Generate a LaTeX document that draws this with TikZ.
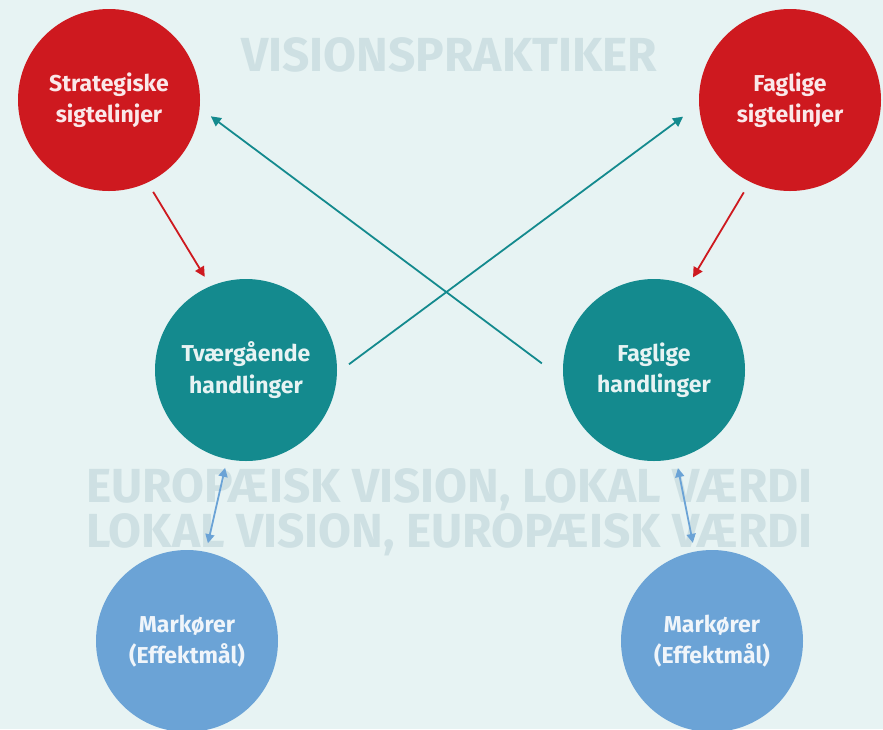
\documentclass[tikz,border=0pt]{standalone}
\usepackage{fontspec}
\setmainfont{Fira Sans}
\usetikzlibrary{arrows.meta}
\definecolor{bg}{RGB}{231,243,243}
\definecolor{wm}{RGB}{206,224,227}
\definecolor{cred}{RGB}{206,25,31}
\definecolor{cteal}{RGB}{20,138,142}
\definecolor{cblue}{RGB}{107,163,214}
\tikzset{
  bubble/.style={circle, minimum size=182pt, inner sep=0pt, outer sep=0pt, align=center,
    font=\fontsize{23}{31.5}\selectfont\bfseries, text=white, text opacity=0.9},
  redc/.style={bubble, fill=cred},
  tealc/.style={bubble, fill=cteal},
  bluec/.style={bubble, fill=cblue},
  wmark/.style={text=wm, font=\fontsize{47.8}{47.8}\selectfont\bfseries, inner sep=0pt, anchor=base},
  redlink/.style={draw=cred, line width=1.8pt, -{Triangle[length=10pt,width=10pt]}},
  teallink/.style={draw=cteal, line width=1.8pt, -{Triangle[length=10pt,width=10pt]}},
  bluelink/.style={draw=cblue, line width=1.8pt, {Triangle[length=9pt,width=9pt]}-{Triangle[length=9pt,width=9pt]}},
}
\begin{document}
\begin{tikzpicture}[x=1pt,y=-1pt]
\fill[bg] (0,0) rectangle (883,729);
\useasboundingbox (0,0) rectangle (883,729);
\clip (0,0) rectangle (883,729);
% watermarks
\node[wmark] (wm1) at (449,71) {VISIONSPRAKTIKER};
\node[wmark] (wm2) at (449.5,502) {EUROPÆISK VISION, LOKAL VÆRDI};
\node[wmark] (wm3) at (449.5,547) {LOKAL VISION, EUROPÆISK VÆRDI};
% circles
\node[redc] (ss) at (109,100) {Strategiske\\sigtelinjer};
\node[redc] (fs) at (790,100) {Faglige\\sigtelinjer};
\node[tealc] (th) at (246,370) {Tværgående\\handlinger};
\node[tealc] (fh) at (654,370) {Faglige\\handlinger};
\node[bluec] (m1) at (187,641) {Markører\\(Effektmål)};
\node[bluec] (m2) at (712,641) {Markører\\(Effektmål)};
% connectors
\draw[redlink, shorten <=11pt, shorten >=11pt] (ss.-65) -- (th.113.5);
\draw[redlink, shorten <=12.3pt, shorten >=9.6pt] (fs.-116.6) -- (fh.68.7);
\draw[teallink, shorten <=15pt, shorten >=20pt] (th.-2) -- (fs.183.2);
\draw[teallink, shorten <=27pt, shorten >=14pt] (fh.186.4) -- (ss.-5.4);
\draw[bluelink, shorten <=9pt, shorten >=9pt] (th.-102) -- (m1.78);
\draw[bluelink, shorten <=10pt, shorten >=9pt] (fh.-76) -- (m2.101);
\end{tikzpicture}
\end{document}
